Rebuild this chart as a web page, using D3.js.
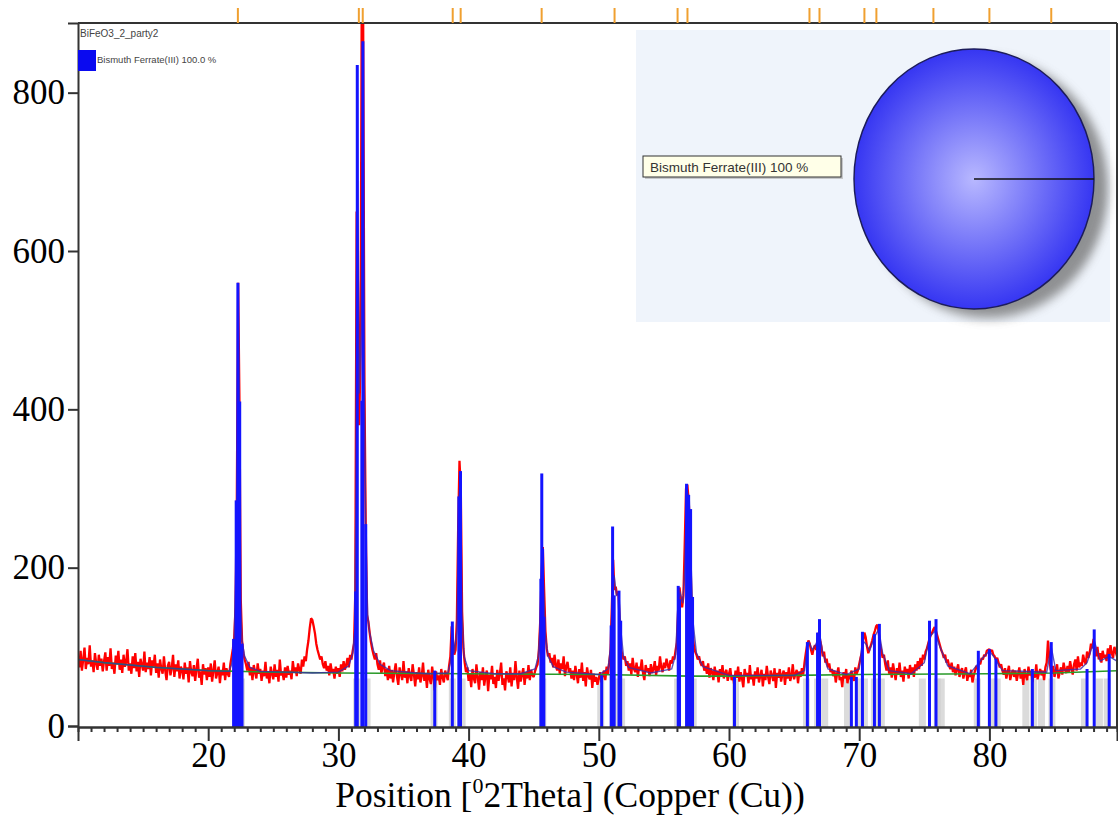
<!DOCTYPE html>
<html>
<head>
<meta charset="utf-8">
<script src="https://cdn.jsdelivr.net/npm/d3@7"></script>
<style>
body { margin: 0; background: #fff; }
svg { display: block; }
</style>
</head>
<body>
<svg id="graph" width="1118" height="816"></svg>
<script>
// observed counts, 10.0 .. 90.0 deg 2theta, step 0.1
var obsStart = 10, obsStep = 0.1;
var obsCounts = [
  88,74,95,70,84,99,72,86,78,102,75,83,68,92,79,71,90,76,85,69,      // 10
  82,93,70,87,76,98,72,80,66,89,78,95,71,84,67,90,75,81,97,70,       // 12
  79,66,88,73,92,69,81,62,85,77,70,94,68,80,72,87,64,83,75,90,       // 14
  67,79,61,84,72,66,88,70,58,76,81,64,73,90,62,78,69,83,60,75,       // 16
  71,59,80,66,74,55,82,68,63,77,57,72,85,61,69,52,78,65,73,58,       // 18
  74,62,79,56,70,83,60,67,75,54,71,64,80,58,73,66,62,78,88,98,       // 20
  112,150,290,560,410,160,108,92,84,78,70,81,64,74,58,77,68,60,79,66, // 22
  72,57,70,63,81,60,68,54,75,66,59,78,62,71,56,84,64,69,58,74,       // 24
  61,76,65,70,59,82,68,74,63,79,71,66,84,75,88,82,97,108,124,136,    // 26
  134,126,117,104,96,90,84,88,78,73,82,70,76,64,79,68,72,60,75,66,   // 28
  73,62,78,69,82,71,77,86,74,90,84,95,104,170,650,560,380,470,960,900, // 30
  430,250,140,132,118,106,97,90,84,92,78,71,83,66,75,80,63,72,58,76, // 32
  60,71,55,68,79,62,52,74,66,58,82,61,69,54,73,63,57,78,65,50,       // 34
  68,59,74,55,63,80,57,66,48,71,60,53,75,62,45,69,58,64,52,72,       // 36
  61,55,70,64,58,76,88,126,108,90,96,134,252,335,300,145,98,80,68,74, // 38
  57,66,49,72,60,54,78,62,46,68,58,74,51,63,70,44,65,59,76,53,       // 40
  62,48,71,57,66,80,52,60,45,69,63,55,74,50,67,58,82,61,47,70,       // 42
  56,65,73,52,68,60,77,58,71,64,62,69,74,78,96,132,188,226,172,120,  // 44
  98,88,92,80,86,74,90,77,70,84,66,79,72,88,63,75,81,68,73,60,       // 46
  70,58,76,65,54,72,61,80,57,68,50,74,63,59,71,48,66,56,62,52,       // 48
  60,68,55,64,70,58,75,66,80,96,150,210,172,176,165,170,132,98,90,84, // 50
  88,76,82,70,79,65,86,72,68,80,62,75,71,84,66,58,77,69,73,63,       // 52
  78,67,72,82,64,76,70,88,74,68,80,73,85,77,70,83,79,88,84,96,       // 54
  106,150,175,160,150,165,230,300,305,285,250,165,120,102,94,90,84,88,80,76, // 56
  82,70,76,66,79,61,73,68,58,75,64,70,55,72,63,77,60,67,71,57,       // 58
  66,73,58,64,52,70,61,75,56,68,60,49,72,63,67,54,77,59,65,51,       // 60
  69,60,74,55,63,71,50,66,58,76,62,53,70,64,57,73,48,67,61,72,       // 62
  56,65,70,52,68,60,74,57,63,78,59,66,71,54,69,62,73,65,80,92,       // 64
  102,108,104,96,90,98,102,96,110,118,108,100,88,94,80,85,74,79,68,72, // 66
  63,70,55,66,74,58,62,49,68,60,72,54,65,59,70,62,57,74,66,70,       // 68
  78,86,92,108,118,112,100,92,98,102,108,115,120,126,128,118,104,95,86,90, // 70
  78,70,83,66,74,61,79,68,58,73,65,80,62,70,56,75,67,72,60,77,       // 72
  66,74,62,78,70,82,72,86,76,90,84,94,98,104,110,115,118,122,125,120, // 74
  114,108,102,96,92,86,90,80,84,76,72,80,68,75,64,71,78,62,69,73,    // 76
  60,68,74,57,66,62,71,55,64,70,76,72,80,78,86,84,90,88,95,96,       // 78
  97,94,96,90,88,84,86,80,74,78,70,65,73,60,68,76,58,66,71,62,       // 80
  70,57,66,74,60,68,52,72,63,58,75,64,70,55,67,61,78,59,66,72,       // 82
  64,70,58,74,80,108,86,72,66,76,62,70,78,60,68,74,65,80,71,67,      // 84
  76,68,82,72,65,78,84,70,88,74,80,76,90,82,78,94,86,92,104,98,      // 86
  110,96,88,100,84,92,80,95,86,90,82,98,88,102,92,86,100,94,88,96,   // 88
  92
];

// calculated profile [2theta, counts]
var calcProfile = [
  [10,84],[12,80],[14,77],[16,74],[18,72],[20,70],[21.6,69],[21.8,78],[21.9,92],[22.0,112],
  [22.1,180],[22.2,300],[22.3,540],[22.4,400],[22.5,150],[22.6,108],[22.8,88],[23.2,74],[24,69],
  [26,68],[28,67],[30,68],[30.8,76],[31.1,92],[31.25,120],[31.35,300],[31.45,820],[31.6,420],
  [31.75,500],[31.88,860],[32.0,420],[32.1,250],[32.25,140],[32.4,118],[32.7,95],[33.2,78],
  [34,70],[36,67],[37,66],[38.4,67],[38.6,80],[38.75,128],[38.9,92],[39.1,120],[39.25,285],
  [39.38,318],[39.5,140],[39.65,88],[40,70],[42,66],[44,66],[45.1,72],[45.35,88],[45.5,130],
  [45.62,225],[45.75,180],[45.9,115],[46.1,88],[46.5,75],[47.5,68],[50,65],[50.7,72],[50.9,98],
  [51.05,170],[51.18,190],[51.35,165],[51.55,168],[51.7,120],[51.9,88],[52.3,74],[54,67],
  [55.6,72],[55.9,90],[56.1,160],[56.25,168],[56.45,155],[56.6,200],[56.75,300],[56.95,285],
  [57.1,200],[57.25,130],[57.5,92],[58,75],[60,64],[65,64],[65.8,70],[66.0,98],[66.15,106],
  [66.4,96],[66.7,104],[66.95,118],[67.2,92],[67.6,72],[69,65],[70.0,72],[70.25,108],[70.5,104],
  [70.8,95],[71.15,112],[71.5,122],[71.8,92],[72.3,70],[74,66],[75,80],[75.4,112],[75.8,120],
  [76.2,100],[76.8,76],[78.5,66],[79.2,80],[79.6,88],[80.0,95],[80.4,86],[81,70],[84.4,68],
  [84.75,100],[85.1,70],[87,72],[87.5,80],[88.05,108],[88.5,82],[89.2,88],[90,80]
];

// fitted background [2theta, counts]
var background = [
  [10,84],[12,80],[14,77],[16,74],[18,72],[20,70],[25,68],[30,67],[40,66],[50,65],
  [57,63],[60,63],[65,64],[70,65],[80,66],[85,67],[90,70]
];

// peak list sticks [2theta, height]
var peakSticks = [
  [21.95,110],[22.15,285],[22.28,560],[22.42,410],[22.6,104],
  [31.33,170],[31.45,835],[31.8,411],[31.88,865],[32.1,255],
  [37.4,70],
  [38.75,132],[39.25,290],[39.38,322],
  [45.55,186],[45.62,319],[45.68,224],[45.78,138],
  [50.22,64],[50.95,127],[51.06,252],[51.18,165],[51.55,171],[51.68,133],
  [56.1,177],[56.2,160],[56.74,306],[56.9,292],[57.05,274],[57.2,163],
  [60.42,62],
  [66.02,106],[66.8,118],[66.95,135],
  [69.4,62],[69.78,62],[70.25,119],[71.17,116],[71.55,129],
  [75.4,133],[75.9,135],
  [79.15,95],[80.0,97],[80.5,85],
  [83.3,72],[84.75,106],
  [87.5,72],[88.05,122],[89.2,91]
];

// reference pattern positions (grey bars under the background)
var refBars = [
  22.55, 31.4, 32.2, 37.35, 38.75, 39.5, 45.7, 50.15, 51.2, 51.75, 56.05, 57.25, 60.5,
  65.95, 66.8, 67.35, 69.1, 70.0, 70.4, 71.17, 71.7, 74.85, 76.0, 76.3, 79.07, 80.2, 80.6,
  82.8, 83.4, 84.0, 84.8, 87.3, 88.45, 89.05
];

// reference line markers above the frame
var refTicks = [22.28, 31.57, 31.87, 38.78, 39.39, 45.61, 51.21, 56.05, 56.81,
                66.18, 66.95, 70.40, 71.32, 75.70, 80.0, 84.75];

var xTicks = [20, 30, 40, 50, 60, 70, 80];
var yTicks = [0, 200, 400, 600, 800];
var phases = [{name: "Bismuth Ferrate(III)", value: 100}];
var scanName = "BiFeO3_2_party2";

var svg = d3.select("#graph");
var x = d3.scaleLinear().domain([10, 89.8]).range([78, 1117]);
var y = d3.scaleLinear().domain([0, 888]).range([726, 23]);

var defs = svg.append("defs");
defs.append("clipPath").attr("id", "plotClip")
  .append("rect").attr("x", 78).attr("y", 23).attr("width", 1039).attr("height", 704);

var plot = svg.append("g").attr("clip-path", "url(#plotClip)");

// grey reference bars
plot.selectAll("rect.ref")
  .data(refBars)
  .enter()
  .append("rect")
  .attr("class", "ref")
  .attr("x", function(d) {return x(d) - 3.5;})
  .attr("width", 7)
  .attr("y", y(60))
  .attr("height", y(0) - y(60) + 1)
  .attr("fill", "#cfcfcf")
  .attr("opacity", 0.75);

var line = d3.line()
  .x(function(d) {return x(d[0]);})
  .y(function(d) {return y(d[1]);});

var observed = obsCounts.map(function(c, i) {return [obsStart + i * obsStep, c];});

plot.append("path")
  .datum(observed)
  .attr("d", line)
  .attr("fill", "none")
  .attr("stroke", "#ff0000")
  .attr("stroke-width", 2.3)
  .attr("stroke-linejoin", "bevel");

plot.append("path")
  .datum(background)
  .attr("d", line)
  .attr("fill", "none")
  .attr("stroke", "#2a9a2a")
  .attr("stroke-width", 1.6);

plot.append("path")
  .datum(calcProfile)
  .attr("d", line)
  .attr("fill", "none")
  .attr("stroke", "#3a2aa8")
  .attr("stroke-width", 1.4)
  .attr("opacity", 0.8);

plot.selectAll("line.stick")
  .data(peakSticks)
  .enter()
  .append("line")
  .attr("class", "stick")
  .attr("x1", function(d) {return x(d[0]);})
  .attr("x2", function(d) {return x(d[0]);})
  .attr("y1", y(0) + 1)
  .attr("y2", function(d) {return y(d[1]);})
  .attr("stroke", "#1414ff")
  .attr("stroke-width", 3);

// frame top / right
svg.append("line").attr("x1", 78).attr("x2", 1117).attr("y1", 23).attr("y2", 23)
  .attr("stroke", "#333").attr("stroke-width", 2);
svg.append("line").attr("x1", 1117).attr("x2", 1117).attr("y1", 23).attr("y2", 727)
  .attr("stroke", "#333").attr("stroke-width", 2);

// reference markers on top
svg.selectAll("line.reftick")
  .data(refTicks)
  .enter()
  .append("line")
  .attr("class", "reftick")
  .attr("x1", function(d) {return x(d);})
  .attr("x2", function(d) {return x(d);})
  .attr("y1", 8)
  .attr("y2", 23)
  .attr("stroke", "#f0a030")
  .attr("stroke-width", 2);

// axes
function styleAxis(g) {
  g.select(".domain").attr("stroke", "#333").attr("stroke-width", 2);
  g.selectAll(".tick line").attr("stroke", "#333").attr("stroke-width", 2);
  g.selectAll(".tick text")
    .attr("font-family", "'Liberation Serif', 'Times New Roman', serif")
    .attr("font-size", 35)
    .attr("fill", "#000");
}

var minorX = d3.range(11, 90).filter(function(d) {return d % 10 !== 0;});
svg.append("g")
  .attr("transform", "translate(0,727)")
  .call(d3.axisBottom(x).tickValues(minorX).tickSize(5).tickFormat(""))
  .call(styleAxis);

svg.append("g")
  .attr("transform", "translate(0,727)")
  .call(d3.axisBottom(x).tickValues(xTicks).tickSize(14).tickPadding(1).tickFormat(d3.format("d")))
  .call(styleAxis);

svg.append("g")
  .attr("transform", "translate(78,0)")
  .call(d3.axisLeft(y).tickValues(yTicks).tickSize(10).tickPadding(3).tickFormat(d3.format("d")))
  .call(styleAxis);

var title = svg.append("text")
  .attr("x", 570)
  .attr("y", 807)
  .attr("text-anchor", "middle")
  .attr("font-family", "'Liberation Serif', 'Times New Roman', serif")
  .attr("font-size", 35.5)
  .attr("fill", "#000");
title.append("tspan").text("Position [");
title.append("tspan").attr("font-size", 22).attr("dy", -14).text("0");
title.append("tspan").attr("dy", 14).text("2Theta] (Copper (Cu))");

// legend top-left
svg.append("text")
  .attr("x", 80).attr("y", 37)
  .attr("font-family", "'Liberation Sans', Arial, sans-serif")
  .attr("font-size", 10)
  .attr("fill", "#444")
  .text(scanName);
svg.append("rect")
  .attr("x", 78).attr("y", 50).attr("width", 18).attr("height", 21)
  .attr("fill", "#0a0af0");
svg.append("text")
  .attr("x", 97).attr("y", 63)
  .attr("font-family", "'Liberation Sans', Arial, sans-serif")
  .attr("font-size", 9.5)
  .attr("fill", "#444")
  .text(phases[0].name + " " + d3.format(".1f")(phases[0].value) + " %");

// inset with phase pie
var inset = svg.append("g");
inset.append("rect")
  .attr("x", 636).attr("y", 30).attr("width", 474).attr("height", 292)
  .attr("fill", "#eff4fb");

var shadow = defs.append("filter").attr("id", "blur")
  .attr("x", "-20%").attr("y", "-20%").attr("width", "140%").attr("height", "140%");
shadow.append("feGaussianBlur").attr("stdDeviation", 5);

var grad = defs.append("radialGradient").attr("id", "pieFill");
grad.append("stop").attr("offset", "0%").attr("stop-color", "#b8b8ff");
grad.append("stop").attr("offset", "100%").attr("stop-color", "#3636f2");

var pie = d3.pie().value(function(d) {return d.value;})
  .startAngle(Math.PI / 2).endAngle(Math.PI / 2 + 2 * Math.PI);
var arc = d3.arc().innerRadius(0).outerRadius(125);
var slices = pie(phases);

inset.append("g")
  .attr("transform", "translate(988,188) scale(0.96,1.04)")
  .selectAll("path")
  .data(slices)
  .enter()
  .append("path")
  .attr("d", arc)
  .attr("fill", "#666")
  .attr("opacity", 0.7)
  .attr("filter", "url(#blur)");

var pieG = inset.append("g")
  .attr("transform", "translate(974,179) scale(0.96,1.04)");
pieG.selectAll("path")
  .data(slices)
  .enter()
  .append("path")
  .attr("d", arc)
  .attr("fill", "url(#pieFill)")
  .attr("stroke", "#1c1c5a")
  .attr("stroke-width", 1.5);
pieG.selectAll("line")
  .data(slices)
  .enter()
  .append("line")
  .attr("x1", 0).attr("y1", 0)
  .attr("x2", function(d) {return 125 * Math.sin(d.startAngle);})
  .attr("y2", function(d) {return -125 * Math.cos(d.startAngle);})
  .attr("stroke", "#111")
  .attr("stroke-width", 1.6);

inset.append("rect")
  .attr("x", 645).attr("y", 158).attr("width", 198).attr("height", 21)
  .attr("fill", "#aaa").attr("opacity", 0.6);
inset.append("rect")
  .attr("x", 643).attr("y", 156).attr("width", 198).attr("height", 21)
  .attr("fill", "#ffffe8").attr("stroke", "#333").attr("stroke-width", 1);
inset.append("text")
  .attr("x", 650).attr("y", 172)
  .attr("font-family", "'Liberation Sans', Arial, sans-serif")
  .attr("font-size", 13.5)
  .attr("fill", "#333")
  .text(phases[0].name + " " + phases[0].value + " %");
</script>
</body>
</html>
